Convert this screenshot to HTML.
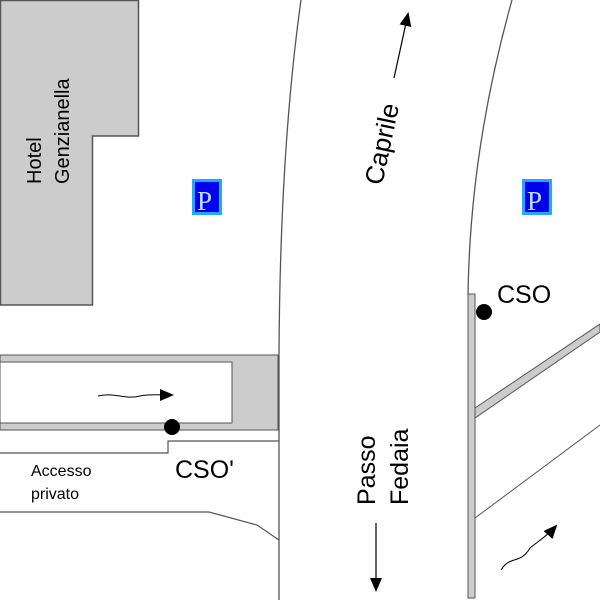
<!DOCTYPE html>
<html><head><meta charset="utf-8"><style>html,body{margin:0;padding:0;background:#fff}svg{display:block}</style></head>
<body>
<svg width="600" height="600" viewBox="0 0 600 600" xmlns="http://www.w3.org/2000/svg" font-family="Liberation Sans, Arial, sans-serif">
<defs>
<marker id="ah2" markerWidth="14" markerHeight="12" refX="12" refY="6" orient="auto" markerUnits="userSpaceOnUse"><path d="M0,0 L14,6 L0,12 z" fill="#000"/></marker></defs>
<rect width="600" height="600" fill="#fff"/>
<!-- hotel -->
<path d="M0.5,0.5 H138.5 V136 H92.5 V305 H0.5 Z" fill="#cccccc" stroke="#555" stroke-width="1.5"/>
<text transform="translate(41,184) rotate(-90)" font-size="20">Hotel</text>
<text transform="translate(69,184) rotate(-90)" font-size="20">Genzianella</text>
<!-- P icons -->
<rect x="192" y="179" width="30" height="36" fill="#22aaff"/><rect x="195" y="182" width="24" height="30" fill="#0000ee"/>
<text x="197" y="210" font-size="27" font-family="Liberation Serif, serif" fill="#bfe0ff">P</text>
<rect x="522" y="179" width="30" height="36" fill="#22aaff"/><rect x="525" y="182" width="24" height="30" fill="#0000ee"/>
<text x="527" y="210" font-size="27" font-family="Liberation Serif, serif" fill="#bfe0ff">P</text>
<!-- road lines -->
<path d="M301,0 Q280,150 279,355 V600" fill="none" stroke="#555" stroke-width="1.3"/>
<path d="M512,0 Q470,150 468,295" fill="none" stroke="#555" stroke-width="1.3"/>
<!-- left lane -->
<path d="M0,355 H278 V430 H0 Z" fill="#cccccc" stroke="#555" stroke-width="1"/>
<rect x="0" y="362" width="232" height="61" fill="#fff" stroke="#555" stroke-width="1"/>
<path d="M0,453 H168 V441 H279" fill="none" stroke="#555" stroke-width="1.2"/>
<path d="M0,512 H209 L257,525 L279,540" fill="none" stroke="#555" stroke-width="1.2"/>
<circle cx="172" cy="427" r="8" fill="#000"/>
<path d="M98,396 C115,392 125,400 140,396 C150,394 160,395 172,395" fill="none" stroke="#000" stroke-width="1" marker-end="url(#ah2)"/>
<text x="175" y="478" font-size="25">CSO'</text>
<text x="31" y="476" font-size="16">Accesso</text>
<text x="31" y="499" font-size="16">privato</text>
<!-- right side -->
<path d="M475,408 L600,324 L600,332 L475,418 Z" fill="#cccccc" stroke="#555" stroke-width="1"/>
<rect x="468" y="294" width="7" height="304" fill="#cccccc" stroke="#555" stroke-width="1"/>
<line x1="475" y1="518" x2="600" y2="425" stroke="#555" stroke-width="1"/>
<circle cx="484" cy="312" r="8" fill="#000"/>
<text x="497" y="303" font-size="25">CSO</text>
<path d="M501,570 C510,555 520,565 530,548 C540,540 548,535 556,526" fill="none" stroke="#000" stroke-width="1" marker-end="url(#ah2)"/>
<!-- direction labels -->
<text transform="translate(382,186) rotate(-78)" font-size="26">Caprile</text>
<line x1="394" y1="78" x2="408" y2="14" stroke="#000" stroke-width="1.2" marker-end="url(#ah2)"/>
<text transform="translate(375,505) rotate(-90)" font-size="25">Passo</text>
<text transform="translate(408,505) rotate(-90)" font-size="25">Fedaia</text>
<line x1="376" y1="523" x2="376" y2="590" stroke="#000" stroke-width="1.2" marker-end="url(#ah2)"/>
</svg>
</body></html>
